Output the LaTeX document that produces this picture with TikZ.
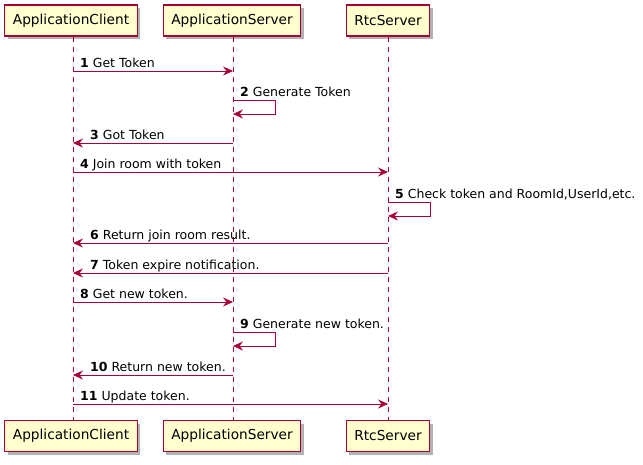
\documentclass[tikz,border=0pt]{standalone}
\usepackage{fontspec}
\setmainfont{DejaVu Sans}
\usetikzlibrary{arrows.meta,shadows}
\definecolor{umlred}{HTML}{A80036}
\definecolor{umlfill}{HTML}{FEFECE}

\begin{document}
\begin{tikzpicture}[x=1pt,y=-1pt,font=\fontsize{12.5}{14}\selectfont]
  \tikzset{every node/.style={inner sep=0pt}}
  \tikzstyle{actor}=[draw=umlred,fill=umlfill,line width=1.2pt,minimum height=31pt,inner xsep=8pt,
    font=\fontsize{13.7}{16}\selectfont,drop shadow={shadow xshift=3pt,shadow yshift=-3pt,opacity=0.3,fill=black}]
  \tikzstyle{life}=[umlred,line width=0.6pt,dash pattern=on 5pt off 5pt]
  \tikzstyle{msg}=[umlred,line width=0.8pt,-{Stealth[length=10pt,width=9pt,inset=3.5pt]}]
  \tikzstyle{lbl}=[anchor=base west]

  \useasboundingbox (0,0) rectangle (643,464);

  \def\ytop{20.5}
  \def\ybot{436}

  % participants
  \node[actor] (ac)  at (71,\ytop)  {ApplicationClient};
  \node[actor] (as)  at (232,\ytop) {ApplicationServer};
  \node[actor] (rs)  at (388,\ytop) {RtcServer};
  \node[actor] (acb) at (71,\ybot)  {ApplicationClient};
  \node[actor] (asb) at (232,\ybot) {ApplicationServer};
  \node[actor] (rsb) at (388,\ybot) {RtcServer};

  % lifelines
  \draw[life] (ac.south -| 73,0) -- (acb.north -| 73,0);
  \draw[life] (as.south -| 233,0) -- (asb.north -| 233,0);
  \draw[life] (rs) -- (rsb);
  \coordinate (lac) at (73,0);
  \coordinate (las) at (233,0);
  \coordinate (lrs) at (388,0);

  % messages between participants
  \foreach \n/\a/\b/\y/\dx/\txt in {1/lac/las/71/7/Get Token,
      3/las/lac/143/17/Got Token,
      4/lac/lrs/172/7/Join room with token,
      6/lrs/lac/243/17/Return join room result.,
      7/lrs/lac/273/17/Token expire notification.,
      8/lac/las/302/7/Get new token.,
      10/las/lac/375/17/Return new token.,
      11/lac/lrs/404/7/Update token.}
  {
    \coordinate (m\n s) at (\a |- 0,\y);
    \coordinate (m\n e) at (\b |- 0,\y);
    \draw[msg] (m\n s) -- (m\n e);
    \node[lbl] at ([xshift=\dx pt,yshift=4pt]lac |- m\n s) {\textbf{\n} \txt};
  }

  % messages to self
  \foreach \n/\a/\y/\txt in {2/las/100/Generate Token,
      5/lrs/202/{Check token and RoomId,UserId,etc.},
      9/las/332/Generate new token.}
  {
    \coordinate (m\n s) at (\a |- 0,\y);
    \coordinate (m\n e) at ([yshift=-14pt]m\n s);
    \draw[msg] (m\n s) -- ++(42,0) |- (m\n e);
    \node[lbl] at ([xshift=7pt,yshift=4pt]m\n s) {\textbf{\n} \txt};
  }

\end{tikzpicture}
\end{document}
